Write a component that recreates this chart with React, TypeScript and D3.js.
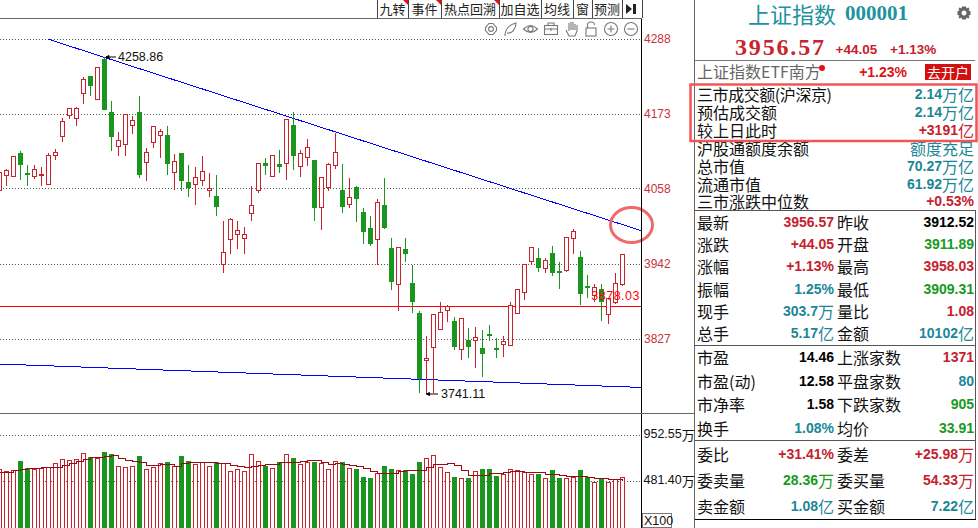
import React from "react";
import * as d3 from "d3";

const opens = [4055.4,4079.0,4077.4,4112.8,4082.0,4076.9,4079.0,4065.1,4109.7,4138.4,4171.2,4166.6,4205.0,4231.6,4195.2,4257.7,4175.8,4123.0,4126.6,4155.3,4175.8,4098.4,4129.7,4140.4,4140.4,4083.1,4112.8,4068.2,4065.1,4071.3,4055.9,4046.7,3942.2,3980.6,3988.3,3982.1,4020.6,4055.4,4096.4,4077.4,4095.9,4097.4,4156.3,4092.8,4106.6,4101.0,4029.8,4060.5,4094.3,4056.4,4034.4,4060.5,4021.1,3997.5,3980.6,4032.9,3966.8,3911.5,3965.3,3913.0,3867.4,3794.7,3814.7,3842.3,3871.5,3855.1,3811.6,3824.4,3825.4,3813.6,3835.1,3813.6,3819.3,3817.7,3866.9,3899.2,3946.8,3951.9,3935.5,3959.6,3931.9,3933.0,3981.6,3953.4,3908.9,3894.0,3903.8,3865.4,3883.8,3911.89];
const closes = [4083.6,4086.7,4108.2,4095.4,4081.5,4088.2,4080.5,4109.7,4114.3,4161.9,4181.9,4181.9,4226.5,4216.7,4244.9,4179.9,4138.4,4132.7,4171.7,4163.0,4080.0,4114.3,4154.3,4146.6,4096.9,4100.0,4070.8,4060.0,4075.9,4085.1,4059.0,4030.8,3960.6,4011.3,3994.4,3988.3,4032.9,4097.4,4093.8,4109.7,4092.3,4165.0,4109.2,4112.8,4122.0,4029.3,4075.9,4095.9,4114.3,4030.8,4045.2,4043.1,3992.4,3974.0,4037.5,3998.5,3915.6,3968.3,3958.6,3884.8,3766.0,3797.7,3865.4,3868.4,3877.1,3815.2,3859.2,3815.2,3830.0,3805.9,3834.1,3811.6,3823.9,3879.2,3902.8,3941.2,3968.3,3937.1,3948.3,3929.4,3929.9,3984.2,3991.9,3897.1,3906.3,3906.8,3884.8,3889.9,3913.0,3956.57];
const highs = [4083.6,4088.7,4108.2,4116.4,4094.9,4094.9,4091.8,4114.8,4120.5,4168.1,4181.9,4185.0,4231.6,4232.6,4246.5,4261.3,4194.7,4146.6,4172.7,4171.2,4202.4,4122.5,4155.8,4151.2,4155.8,4112.8,4114.8,4094.9,4091.8,4108.7,4082.6,4081.0,4008.8,4013.4,4008.8,3999.6,4062.6,4099.4,4105.6,4111.7,4119.4,4166.6,4177.8,4119.4,4134.8,4102.5,4077.9,4099.4,4145.0,4096.4,4076.4,4062.6,4030.3,4018.0,4042.6,4076.4,3984.2,3968.8,3984.2,3942.7,3870.5,3833.6,3865.9,3885.8,3881.2,3862.8,3859.7,3845.9,3847.4,3841.3,3849.0,3829.0,3833.6,3885.3,3903.8,3942.7,3968.8,3968.8,3953.4,3970.4,3947.3,3985.2,3996.5,3962.7,3927.3,3913.0,3912.0,3891.5,3928.9,3958.03];
const lows = [4055.4,4064.1,4076.9,4071.8,4062.6,4073.8,4064.1,4064.6,4103.0,4131.7,4166.0,4156.3,4188.6,4200.9,4195.2,4179.9,4116.4,4110.2,4110.2,4142.5,4076.4,4070.3,4122.5,4107.1,4079.5,4057.9,4056.4,4047.2,4034.9,4062.6,4045.7,4016.5,3928.9,3958.1,3965.8,3959.6,4010.3,4053.3,4079.5,4076.9,4082.6,4071.8,4087.2,4077.9,4094.8,4010.3,3995.0,4054.9,4090.2,4021.1,4028.8,4007.3,3973.5,3970.4,3941.2,3998.0,3902.8,3871.0,3945.8,3868.9,3746.0,3743.0,3744.5,3841.3,3853.6,3810.6,3795.2,3798.3,3784.4,3769.1,3824.4,3799.8,3801.3,3817.7,3866.4,3887.4,3941.2,3931.9,3928.9,3925.8,3905.8,3931.9,3958.1,3881.2,3890.5,3885.8,3856.6,3852.0,3882.3,3909.31];
const volumes = [604,583,594,689,614,604,614,624,665,706,696,706,768,727,717,781,751,634,624,634,740,604,624,665,669,634,740,689,655,675,634,679,665,583,604,583,757,686,628,614,669,757,720,655,675,669,665,604,686,669,614,607,525,505,563,638,607,594,594,546,669,717,747,624,573,525,512,505,583,607,607,535,556,604,594,573,556,546,512,587,515,505,525,587,522,464,505,474,495,522];
const volumeMA = [570,573,587,600,611,611,621,621,624,641,665,686,706,727,727,737,744,710,696,682,675,645,645,655,655,638,665,675,675,675,675,665,665,641,631,621,634,645,655,655,675,675,675,686,696,696,675,655,665,652,641,631,614,583,563,563,563,583,594,594,594,624,655,655,665,641,587,542,542,542,563,563,573,583,583,573,573,573,553,553,539,529,529,535,522,512,512,501,495,488];

const priceTicks = [4288, 4173, 4058, 3942, 3827];
const volumeTicks = [952.55, 481.4];
const volumeTickLabels = ["952.55万", "481.40万"];
const highLabel = "4258.86";
const lowLabel = "3741.11";
const levelLabel = "3878.03";
const levelValue = 3877.7;
const downTrend = [[7, 4288], [91.8, 3993.5]];
const lowerTrend = [[0, 3789], [91.8, 3753]];
const toolbarLabels = ["九转", "事件", "热点回溯", "加自选", "均线", "窗", "预测"];

const TEAL = "#1b8796", RED = "#c4222e", GREEN = "#179a1e", BLACK = "#000";
type Cell = [string, string, string];

const highlightLabels = ["三市成交额(沪深京)", "预估成交额", "较上日此时", "沪股通额度余额", "总市值", "流通市值", "三市涨跌中位数"];
const highlightValues: Cell[] = [["2.14","万亿",TEAL],["2.14","万亿",TEAL],["+3191","亿",RED],["","额度充足",TEAL],["70.27","万亿",TEAL],["61.92","万亿",TEAL],["+0.53%","",RED]];
const quoteLeftLabels = ["最新","涨跌","涨幅","振幅","现手","总手","市盈","市盈(动)","市净率","换手","委比","委卖量","卖金额"];
const quoteLeftValues: Cell[] = [["3956.57","",RED],["+44.05","",RED],["+1.13%","",RED],["1.25%","",TEAL],["303.7","万",TEAL],["5.17","亿",TEAL],["14.46","",BLACK],["12.58","",BLACK],["1.58","",BLACK],["1.08%","",TEAL],["+31.41%","",RED],["28.36","万",GREEN],["1.08","亿",TEAL]];
const quoteRightLabels = ["昨收","开盘","最高","最低","量比","金额","上涨家数","平盘家数","下跌家数","均价","委差","委买量","买金额"];
const quoteRightValues: Cell[] = [["3912.52","",BLACK],["3911.89","",GREEN],["3958.03","",RED],["3909.31","",GREEN],["1.08","",RED],["10102","亿",TEAL],["1371","",RED],["80","",TEAL],["905","",GREEN],["33.91","",GREEN],["+25.98","万",RED],["54.33","万",RED],["7.22","亿",TEAL]];

const highlightRowY = [94, 111.5, 129.5, 148, 166, 183.5, 201];
const quoteRowY = [222, 244, 266, 289, 311, 333, 357, 381, 404, 428, 454, 480, 506];
const toolbarEdges = [377, 408, 441, 499, 541, 573, 592, 622, 642];

const CJK = '"Noto Sans CJK SC", sans-serif';
const SANS = '"Liberation Sans", Arial, sans-serif';
const C_RED = "#c8232c", C_GREEN = "#1a961e";

const x = d3.scaleLinear().domain([0, 89]).range([-0.5, 622.5]);
const y = d3.scaleLinear().domain([4288, 3827]).range([39.3, 339.3]);
const yVol = d3.scaleLinear().domain([952.55, 481.4]).range([435.3, 481.3]);
const snap = (v: number) => Math.round(v - 0.5) + 0.5;
const trend = d3.line<number[]>().x((d) => x(d[0])).y((d) => y(d[1]));
const maLine = d3.line<number>().x((_, i) => x(i)).y((d) => snap(yVol(d))).curve(d3.curveStepAfter);

function ValueText({ cell, right, cy }: { cell: Cell; right: number; cy: number }) {
  const [num, unit, color] = cell;
  return (
    <text x={right} y={cy} textAnchor="end" dominantBaseline="central" fill={color}>
      {num && <tspan fontFamily={SANS} fontWeight="bold" fontSize={14}>{num}</tspan>}
      {unit && <tspan fontFamily={CJK} fontSize={16}>{unit}</tspan>}
    </text>
  );
}

function Icons() {
  const s = { fill: "none", stroke: "#777", strokeWidth: 1.1 };
  const cy = 29;
  return (
    <g {...s}>
      <g transform={`translate(491,${cy})`}>
        <circle r={2.4} />
        <path d="M-2,-5.5 L2,-5.5 L5.5,-1.5 L5.5,1.5 L2,5.5 L-2,5.5 L-5.5,1.5 L-5.5,-1.5 Z" />
      </g>
      <path d={`M505,${cy + 7} C505,${cy} 510,${cy - 5} 516,${cy - 6} C516,${cy} 512,${cy + 5} 507,${cy + 4}`} />
      <g transform={`translate(530.5,${cy})`}>
        <path d="M-7,0 Q0,-7 7,0 Q0,7 -7,0 Z" />
        <circle r={2.6} />
      </g>
      <g transform={`translate(551,${cy})`}>
        <rect x={-6.5} y={-3.5} width={13} height={9} />
        <path d="M-3,-3.5 V-6 H3 V-3.5 M-6.5,0 H6.5 M0,-1 V2" />
      </g>
      <path d={`M566,${cy + 1} L569,${cy + 7} H575 L577,${cy + 2} V${cy - 4} M575,${cy - 4} V${cy + 1} M575,${cy - 5} V${cy - 4} M573,${cy - 7} V${cy + 1} M571,${cy - 7} V${cy + 1} M569,${cy - 6} V${cy + 2}`} />
      <g transform={`translate(591,${cy})`}>
        <rect x={-5} y={-1} width={10} height={8} />
        <path d="M-3.5,-1 V-4 Q-3.5,-7 0,-7 Q3.5,-7 3.5,-4" />
      </g>
      <g transform={`translate(611,${cy})`}>
        <circle r={6.5} />
        <path d="M-3.5,0 H3.5 M0,-3.5 V3.5" />
      </g>
      <g transform={`translate(631,${cy})`}>
        <circle r={6.5} />
        <path d="M-3.5,0 H3.5" />
      </g>
    </g>
  );
}

export default function App() {
  const idx = d3.range(opens.length);
  return (
    <svg width={978} height={528} style={{ position: "absolute", left: 0, top: 0, background: "#fff" }}>
      {/* price grid */}
      <g shapeRendering="crispEdges">
        {priceTicks.map((t) => (
          <line key={t} x1={0} x2={641} y1={snap(y(t))} y2={snap(y(t))} stroke="#555" strokeDasharray="1 2" />
        ))}
        {volumeTicks.map((t) => (
          <line key={t} x1={0} x2={641} y1={snap(yVol(t))} y2={snap(yVol(t))} stroke="#555" strokeDasharray="1 2" />
        ))}
      </g>

      {/* level + trends */}
      <line x1={0} x2={641} y1={snap(y(levelValue))} y2={snap(y(levelValue))} stroke="#f00" strokeWidth={1} shapeRendering="crispEdges" />
      <path d={trend(downTrend) ?? ""} stroke="#00f" fill="none" strokeWidth={1} shapeRendering="crispEdges" />
      <path d={trend(lowerTrend) ?? ""} stroke="#00f" fill="none" strokeWidth={1} shapeRendering="crispEdges" />

      {/* candles */}
      <g shapeRendering="crispEdges">
        {idx.map((i) => {
          const up = closes[i] >= opens[i];
          const color = up ? C_RED : C_GREEN;
          const top = snap(y(Math.max(opens[i], closes[i])));
          const bot = snap(y(Math.min(opens[i], closes[i])));
          const cx = x(i);
          return (
            <g key={i}>
              <line x1={cx} x2={cx} y1={snap(y(highs[i]))} y2={snap(y(lows[i]))} stroke={color} />
              <rect x={cx - 2} y={top} width={4} height={Math.max(bot - top, 1)} fill={up ? "#fff" : color} stroke={color} />
            </g>
          );
        })}
      </g>

      {/* volume */}
      <g shapeRendering="crispEdges">
        {idx.map((i) => {
          const up = closes[i] >= opens[i];
          const color = up ? C_RED : C_GREEN;
          const top = snap(yVol(volumes[i]));
          return <rect key={i} x={x(i) - 2} y={top} width={4} height={530 - top} fill={up ? "#fff" : color} stroke={color} />;
        })}
      </g>
      <path d={maLine(volumeMA) ?? ""} stroke="#990a14" fill="none" strokeWidth={1} shapeRendering="crispEdges" />

      {/* annotations */}
      <g fontFamily={SANS} fontSize={12.5}>
        <path d="M106,57 H116 M106,57 l3,-1.5 v3 z" stroke="#000" fill="#000" />
        <text x={118} y={57} dominantBaseline="central" fill="#111">{highLabel}</text>
        <path d="M426.5,394 H438 M426.5,394 l3,-1.5 v3 z" stroke="#000" fill="#000" />
        <text x={441} y={394} dominantBaseline="central" fill="#111">{lowLabel}</text>
        <text x={640} y={296} textAnchor="end" dominantBaseline="central" fill="#f00" letterSpacing={0.5}>{levelLabel}</text>
      </g>
      <ellipse cx={631.5} cy={225} rx={21} ry={17.5} fill="none" stroke="#f06a6a" strokeWidth={3} />

      {/* frame */}
      <g shapeRendering="crispEdges">
        <line x1={641.5} x2={641.5} y1={18} y2={528} stroke="#000" />
        <line x1={0} x2={694} y1={413.5} y2={413.5} stroke="#666" />
        <line x1={0} x2={642} y1={18.5} y2={18.5} stroke="#666" />
        <line x1={694.5} x2={694.5} y1={0} y2={528} stroke="#666" />
      </g>

      {/* axis labels */}
      <g fontFamily={SANS} fontSize={12} fill="#c8323c">
        {priceTicks.map((t) => (
          <text key={t} x={644} y={y(t)} dominantBaseline="central">{t}</text>
        ))}
      </g>
      {volumeTicks.map((t, i) => (
        <text key={t} x={643.5} y={yVol(t) - 1} dominantBaseline="central" fontFamily={SANS} fontSize={12.5} fill="#111">
          {volumeTickLabels[i].replace("万", "")}
          <tspan fontFamily={CJK} fontSize={13}>万</tspan>
        </text>
      ))}
      <rect x={642.5} y={513.5} width={29} height={14} fill="#fff" stroke="#777" shapeRendering="crispEdges" />
      <text x={644} y={521} dominantBaseline="central" fontFamily={SANS} fontSize={12.5} fill="#111">X100</text>

      {/* toolbar */}
      <g fontFamily={CJK} fontSize={13} fill="#222">
        {toolbarLabels.map((l, i) => (
          <g key={l}>
            <text x={(toolbarEdges[i] + toolbarEdges[i + 1]) / 2} y={8.5} textAnchor="middle" dominantBaseline="central">{l}</text>
            {i < 3 && <path d={`M${toolbarEdges[i + 1] - 5},0 H${toolbarEdges[i + 1]} V5 Z`} fill="#e81010" />}
          </g>
        ))}
      </g>
      <g shapeRendering="crispEdges">
        {toolbarEdges.map((e) => (
          <line key={e} x1={e + 0.5} x2={e + 0.5} y1={0} y2={18} stroke="#444" />
        ))}
      </g>
      <path d="M626,4 L632,9 L626,14 Z M633,4 h3 v10 h-3 z" fill="#222" />
      <Icons />

      {/* side panel header */}
      <g>
        <text x={748} y={13} dominantBaseline="central" fontFamily={CJK} fontSize={22} fill="#2191a0">上证指数</text>
        <text x={845} y={13} dominantBaseline="central" fontFamily='"Liberation Serif", serif' fontWeight="bold" fontSize={21} fill="#2191a0">000001</text>
        <path transform="translate(964,13)" d="M-2,-6.5 H2 L2.6,-4.6 L4.6,-5.4 L5.4,-4.6 L4.6,-2.6 L6.5,-2 V2 L4.6,2.6 L5.4,4.6 L4.6,5.4 L2.6,4.6 L2,6.5 H-2 L-2.6,4.6 L-4.6,5.4 L-5.4,4.6 L-4.6,2.6 L-6.5,2 V-2 L-4.6,-2.6 L-5.4,-4.6 L-4.6,-5.4 L-2.6,-4.6 Z M0,-2.5 A2.5,2.5 0 1 0 0.01,-2.5 Z" fill="#666" fillRule="evenodd" />
        <text x={735} y={46.5} dominantBaseline="central" fontFamily='"Liberation Serif", serif' fontWeight="bold" fontSize={24} fill="#c6252f" textLength={89}>3956.57</text>
        <text x={835.5} y={49} dominantBaseline="central" fontFamily={SANS} fontWeight="bold" fontSize={13.5} fill={RED}>+44.05</text>
        <text x={890} y={49} dominantBaseline="central" fontFamily={SANS} fontWeight="bold" fontSize={13.5} fill={RED}>+1.13%</text>
        <line x1={695} x2={975} y1={60.5} y2={60.5} stroke="#777" shapeRendering="crispEdges" />
        <text x={697} y={71} dominantBaseline="central" fontFamily={CJK} fontSize={16} fill="#666">上证指数ETF南方</text>
        <circle cx={822} cy={68} r={3} fill="#e81010" />
        <text x={907} y={72} textAnchor="end" dominantBaseline="central" fontFamily={SANS} fontWeight="bold" fontSize={14} fill="#dc1414">+1.23%</text>
        <rect x={925} y={64} width={46} height={16} fill="#d40f0f" />
        <text x={948} y={71.5} textAnchor="middle" dominantBaseline="central" fontFamily={CJK} fontSize={14} fill="#fff">去开户</text>
      </g>

      {/* side panel rows */}
      <g fontFamily={CJK} fontSize={16} fill="#111">
        {highlightLabels.map((l, i) => (
          <text key={l} x={697} y={highlightRowY[i]} dominantBaseline="central" textLength={i === 0 ? 135 : undefined}>{l}</text>
        ))}
        {quoteLeftLabels.map((l, i) => (
          <text key={l} x={697} y={quoteRowY[i]} dominantBaseline="central">{l}</text>
        ))}
        {quoteRightLabels.map((l, i) => (
          <text key={l} x={837} y={quoteRowY[i]} dominantBaseline="central">{l}</text>
        ))}
      </g>
      {highlightValues.map((c, i) => (
        <ValueText key={i} cell={c} right={974} cy={highlightRowY[i]} />
      ))}
      {quoteLeftValues.map((c, i) => (
        <ValueText key={i} cell={c} right={834} cy={quoteRowY[i]} />
      ))}
      {quoteRightValues.map((c, i) => (
        <ValueText key={i} cell={c} right={974} cy={quoteRowY[i]} />
      ))}

      <rect x={690.5} y={84.5} width={286} height={56.5} fill="none" stroke="#f25555" strokeWidth={2.5} />
      <g shapeRendering="crispEdges" stroke="#555">
        <line x1={695} x2={975} y1={210.5} y2={210.5} />
        <line x1={695} x2={975} y1={345.5} y2={345.5} />
        <line x1={695} x2={975} y1={440.5} y2={440.5} />
        <line x1={695} x2={976} y1={519.5} y2={519.5} stroke="#000" />
        <line x1={975.5} x2={975.5} y1={210} y2={519} />
      </g>
    </svg>
  );
}
